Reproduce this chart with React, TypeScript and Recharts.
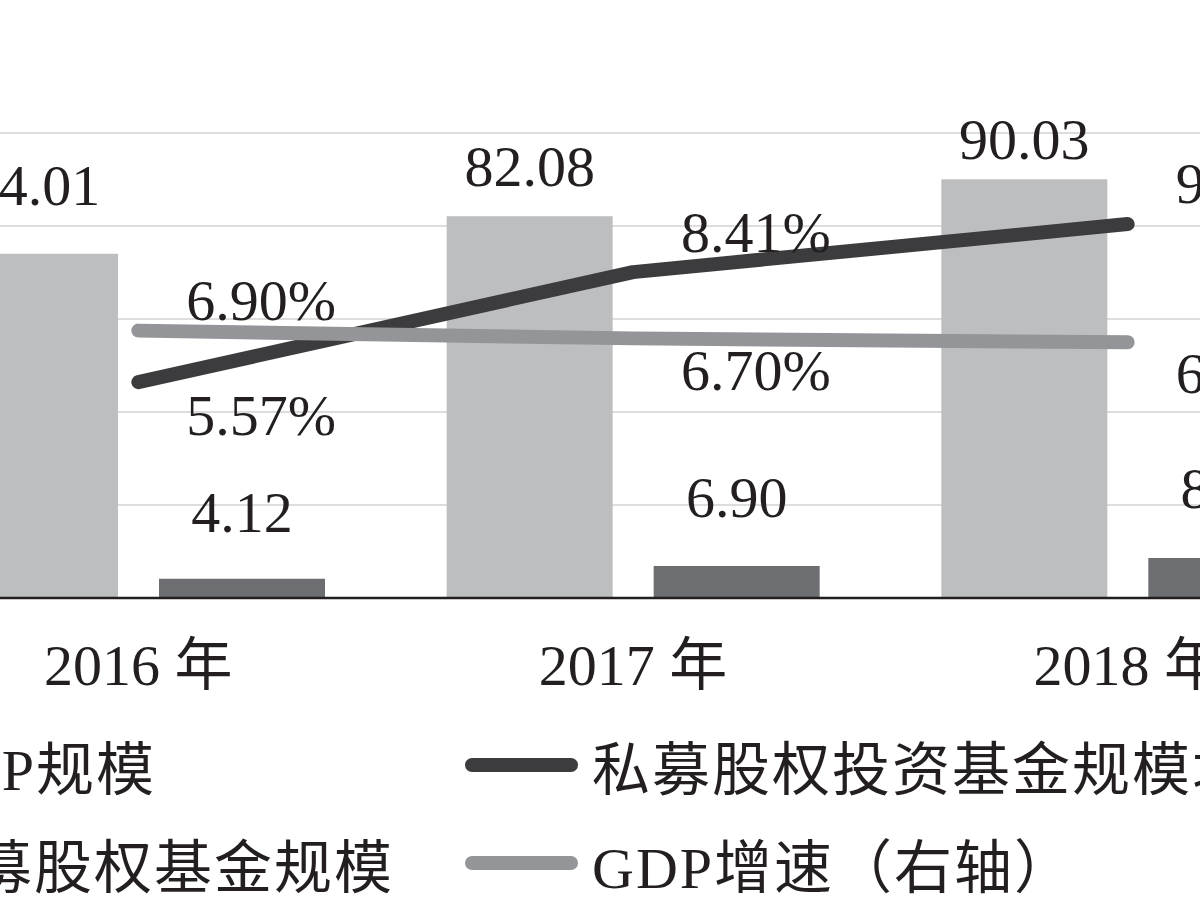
import React from "react";
import { ComposedChart, Bar, Line, XAxis, YAxis, CartesianGrid, Legend } from "recharts";

const years = ["2016 年", "2017 年", "2018 年"];
const gdpScale = [74.01, 82.08, 90.03];
const peFundScale = [4.12, 6.9, 8.6];
const peFundGrowth = [5.57, 8.41, 9.65];
const gdpGrowth = [6.9, 6.7, 6.6];

const leftTicks = [0, 20, 40, 60, 80, 100];
const rightTicks = [0, 2, 4, 6, 8, 10, 12];

const NAME_GDP = "GDP规模";
const NAME_PE = "私募股权基金规模";
const NAME_PE_GROWTH = "私募股权投资基金规模增速";
const NAME_GDP_GROWTH = "GDP增速（右轴）";
// legend fills column by column: bars on the left, lines on the right
const legendOrder = [NAME_GDP, NAME_PE, NAME_PE_GROWTH, NAME_GDP_GROWTH];

// label placement (how far the original nudged each number)
const gdpLabelLift = [49, 30, 20];
const peLabelLift = [47, 49, 50];
const peGrowthLabelDy = [53, -20, -21];
const gdpGrowthLabelDy = [-11, 52, 51];

const FONT = '"Liberation Serif", "Noto Sans CJK SC", serif';
const INK = "#231f20";

const data = years.map((year, i) => ({
  year,
  gdp: gdpScale[i],
  pe: peFundScale[i],
  peGrowth: peFundGrowth[i],
  gdpGrowth: gdpGrowth[i],
}));

const barLabel = (lift: number[]) => (p: any) => {
  const { x, y, width, value, index } = p;
  return (
    <text
      x={Number(x) + Number(width) / 2}
      y={Number(y) - lift[index]}
      textAnchor="middle"
      fontFamily={FONT}
      fontSize={58}
      fill={INK}
    >
      {Number(value).toFixed(2)}
    </text>
  );
};

const lineLabel = (dy: number[]) => (p: any) => {
  const { x, y, value, index } = p;
  return (
    <text x={Number(x) + 48} y={Number(y) + dy[index]} textAnchor="start" fontFamily={FONT} fontSize={58} fill={INK}>
      {Number(value).toFixed(2)}%
    </text>
  );
};

function LegendBox({ payload }: any) {
  const items = [...(payload || [])].sort(
    (a: any, b: any) => legendOrder.indexOf(a.value) - legendOrder.indexOf(b.value)
  );
  return (
    <div
      style={{
        display: "grid",
        gridTemplateColumns: "605px auto",
        gridTemplateRows: "98px 98px",
        gridAutoFlow: "column",
        fontFamily: FONT,
        fontSize: 58,
        letterSpacing: 2,
        color: INK,
        whiteSpace: "nowrap",
      }}
    >
      {items.map((it: any) => (
        <div key={it.value} style={{ display: "flex", alignItems: "center", height: 98 }}>
          {it.type === "line" ? (
            <span style={{ display: "inline-block", width: 113, height: 14, borderRadius: 7, background: it.color, marginRight: 14 }} />
          ) : (
            <span style={{ display: "inline-block", width: 40, height: 40, background: it.color, marginRight: 14 }} />
          )}
          <span>{it.value}</span>
        </div>
      ))}
    </div>
  );
}

export default function App() {
  return (
    <div style={{ position: "fixed", left: 0, top: 0, width: 1200, height: 900, overflow: "hidden", background: "#fff" }}>
      <div style={{ position: "absolute", left: -109, top: 0 }}>
        <ComposedChart
          width={1484}
          height={900}
          data={data}
          margin={{ top: 133, right: 0, bottom: 202, left: 0 }}
          barSize={166}
          barGap={41}
        >
          <CartesianGrid yAxisId="left" vertical={false} stroke="#d2d2d2" strokeWidth={1.5} />
          <XAxis
            dataKey="year"
            interval={0}
            tickLine={false}
            axisLine={{ stroke: INK, strokeWidth: 2.5 }}
            tickMargin={40}
            height={100}
            tick={{ fontFamily: FONT, fontSize: 58, fill: INK }}
          />
          <YAxis yAxisId="left" hide domain={[0, 100]} ticks={leftTicks} />
          <YAxis yAxisId="right" hide orientation="right" domain={[0, 12]} ticks={rightTicks} />
          <Legend
            layout="vertical"
            align="center"
            verticalAlign="middle"
            wrapperStyle={{ left: -31, top: 716, width: 1300 }}
            content={<LegendBox />}
          />
          <Bar yAxisId="left" dataKey="gdp" name={NAME_GDP} fill="#bcbec0" isAnimationActive={false} label={barLabel(gdpLabelLift)} />
          <Bar yAxisId="left" dataKey="pe" name={NAME_PE} fill="#6d6e71" isAnimationActive={false} label={barLabel(peLabelLift)} />
          <Line
            yAxisId="right"
            type="linear"
            dataKey="peGrowth"
            name={NAME_PE_GROWTH}
            stroke="#3c3c3e"
            strokeWidth={14}
            strokeLinecap="round"
            strokeLinejoin="round"
            dot={false}
            activeDot={false}
            isAnimationActive={false}
            label={lineLabel(peGrowthLabelDy)}
          />
          <Line
            yAxisId="right"
            type="linear"
            dataKey="gdpGrowth"
            name={NAME_GDP_GROWTH}
            stroke="#939598"
            strokeWidth={14}
            strokeLinecap="round"
            strokeLinejoin="round"
            dot={false}
            activeDot={false}
            isAnimationActive={false}
            label={lineLabel(gdpGrowthLabelDy)}
          />
        </ComposedChart>
      </div>
    </div>
  );
}
